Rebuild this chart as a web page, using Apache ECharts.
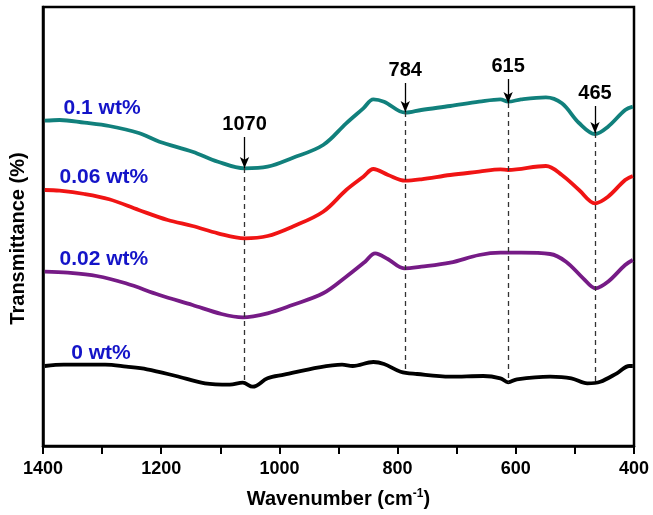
<!DOCTYPE html>
<html><head><meta charset="utf-8">
<script src="https://cdn.jsdelivr.net/npm/echarts@6/dist/echarts.min.js"></script>
<style>html,body{margin:0;padding:0;background:#fff}#c{width:653px;height:515px}</style>
</head><body><div id="c"></div>
<script>
// Wavenumber / relative transmittance readings (arbitrary units)
var teal01 = [[1397,325.3],[1372,326],[1330,323.3],[1288,320],[1238,313],[1203,304.3],[1147,294.3],[1104,284.3],[1059,277.7],[1020,279.3],[978,288],[926,301],[887,322.7],[858,337.7],[841,346.7],[823,344.3],[787,333.3],[760,336],[711,340],[662,344.3],[626,346.7],[613,344.3],[591,346.7],[549,348.7],[522,342.7],[493,323],[466,312],[444,319.3],[415,336],[402,339.3]];
var red006 = [[1397,256],[1372,255.3],[1330,252],[1288,246.7],[1238,236],[1189,226],[1147,220],[1104,212.7],[1059,207.7],[1020,210],[978,219.3],[926,234.3],[887,256],[858,269.3],[841,277],[816,271],[787,265.3],[760,266.7],[711,271],[662,274.3],[626,276.7],[613,276],[549,280],[522,271],[493,256],[466,242.7],[444,249.3],[415,266],[402,270]];
var purple002 = [[1397,174.3],[1358,173.3],[1309,170],[1260,162.7],[1203,151],[1147,141],[1098,132],[1062,128.7],[1020,132.7],[978,141],[926,152.7],[887,169.3],[855,184.3],[838,192.7],[816,186.7],[789,177.7],[760,179.3],[711,183.3],[662,191],[626,193.3],[591,193.3],[542,192],[515,184.3],[486,167.7],[465,157.7],[444,164.3],[415,181],[402,186]];
var black0 = [[1397,80],[1365,81.3],[1295,81.3],[1259,79.3],[1224,76.7],[1175,70],[1126,62.7],[1084,61.3],[1062,63.3],[1045,59.3],[1020,67.7],[992,71.3],[933,78.7],[894,81.3],[876,80],[841,84],[823,82],[795,74.3],[767,72],[711,69.3],[655,70],[626,67.7],[613,63.7],[598,66.7],[542,69.3],[506,67.7],[479,62.7],[457,64.3],[429,72.7],[408,80],[402,80]];

var seriesNames = ['0.1 wt%','0.06 wt%','0.02 wt%','0 wt%'];
var seriesColors = ['#11807c','#f01414','#761b86','#000000'];
var seriesLabelAt = [[1300,338],[1297,269],[1297,187],[1302,93]];

var peakPos = [1059, 787, 613, 466];
var peakText = ['1070','784','615','465'];
var arrowTop = [309, 363, 367, 340];
var arrowEnd = [278, 334, 343, 313];
var dashEnd = [64, 74, 63, 63];

var xTicks = [1400,1200,1000,800,600,400];

var chart = echarts.init(document.getElementById('c'), null, {renderer:'canvas'});
var FF = '"Liberation Sans", Arial, sans-serif';
var datasets = [teal01, red006, purple002, black0];
var series = datasets.map(function(d,i){
  return {
    type:'line', name:seriesNames[i], data:d, smooth:0.35, showSymbol:false,
    lineStyle:{color:seriesColors[i], width:3.8}, z:3,
    markPoint:{
      symbol:'circle', symbolSize:0, silent:true,
      data:[{coord:seriesLabelAt[i], label:{show:true, formatter:seriesNames[i], color:'#1414c8', fontFamily:FF, fontWeight:'bold', fontSize:21, position:'inside'}}]
    }
  };
});
// peak annotations
var dashData = [], arrowData = [];
peakPos.forEach(function(p,i){
  dashData.push([{coord:[p, arrowEnd[i]]},{coord:[p, dashEnd[i]]}]);
  arrowData.push([{coord:[p, arrowTop[i]], label:{show:true, position:'start', formatter:peakText[i], color:'#000', fontFamily:FF, fontWeight:'bold', fontSize:20, distance:3}},{coord:[p, arrowEnd[i]]}]);
});
series.push({
  type:'line', data:[], silent:true,
  markLine:{symbol:['none','none'], silent:true, animation:false,
    lineStyle:{type:[5,4], color:'#333', width:1.3}, label:{show:false}, data:dashData}
});
series.push({
  type:'line', data:[], silent:true,
  markLine:{symbol:['none','arrow'], symbolSize:[7,11], silent:true, animation:false,
    lineStyle:{type:'solid', color:'#000', width:1.3}, data:arrowData}
});

chart.setOption({
  animation:false,
  backgroundColor:'#fff',
  grid:{left:42, right:19, top:7, bottom:69, show:true, borderColor:'#000', borderWidth:2.5},
  xAxis:{
    type:'value', inverse:true, min:400, max:1400, interval:100,
    name:'Wavenumber (cm{sup|-1})', nameLocation:'middle', nameGap:42,
    nameTextStyle:{fontFamily:FF, fontWeight:'bold', fontSize:20, color:'#000',
      rich:{sup:{fontFamily:FF, fontWeight:'bold', fontSize:12, color:'#000', verticalAlign:'top', padding:[0,0,11,0]}}},
    axisLine:{show:true, lineStyle:{color:'#000', width:2.5}},
    axisTick:{show:true, inside:false, length:8, lineStyle:{color:'#000', width:2}},
    axisLabel:{margin:14, color:'#000', fontFamily:FF, fontWeight:'bold', fontSize:18,
      formatter:function(v){return xTicks.indexOf(v)>=0 ? String(v) : '';}},
    splitLine:{show:false}
  },
  yAxis:{
    type:'value', min:0, max:439,
    name:'Transmittance (%)', nameLocation:'middle', nameGap:15, nameRotate:90,
    nameTextStyle:{fontFamily:FF, fontWeight:'bold', fontSize:20, color:'#000', padding:[0,24,0,0]},
    axisLine:{show:true, lineStyle:{color:'#000', width:2.5}},
    axisTick:{show:false}, axisLabel:{show:false}, splitLine:{show:false}
  },
  series:series
});
</script></body></html>
